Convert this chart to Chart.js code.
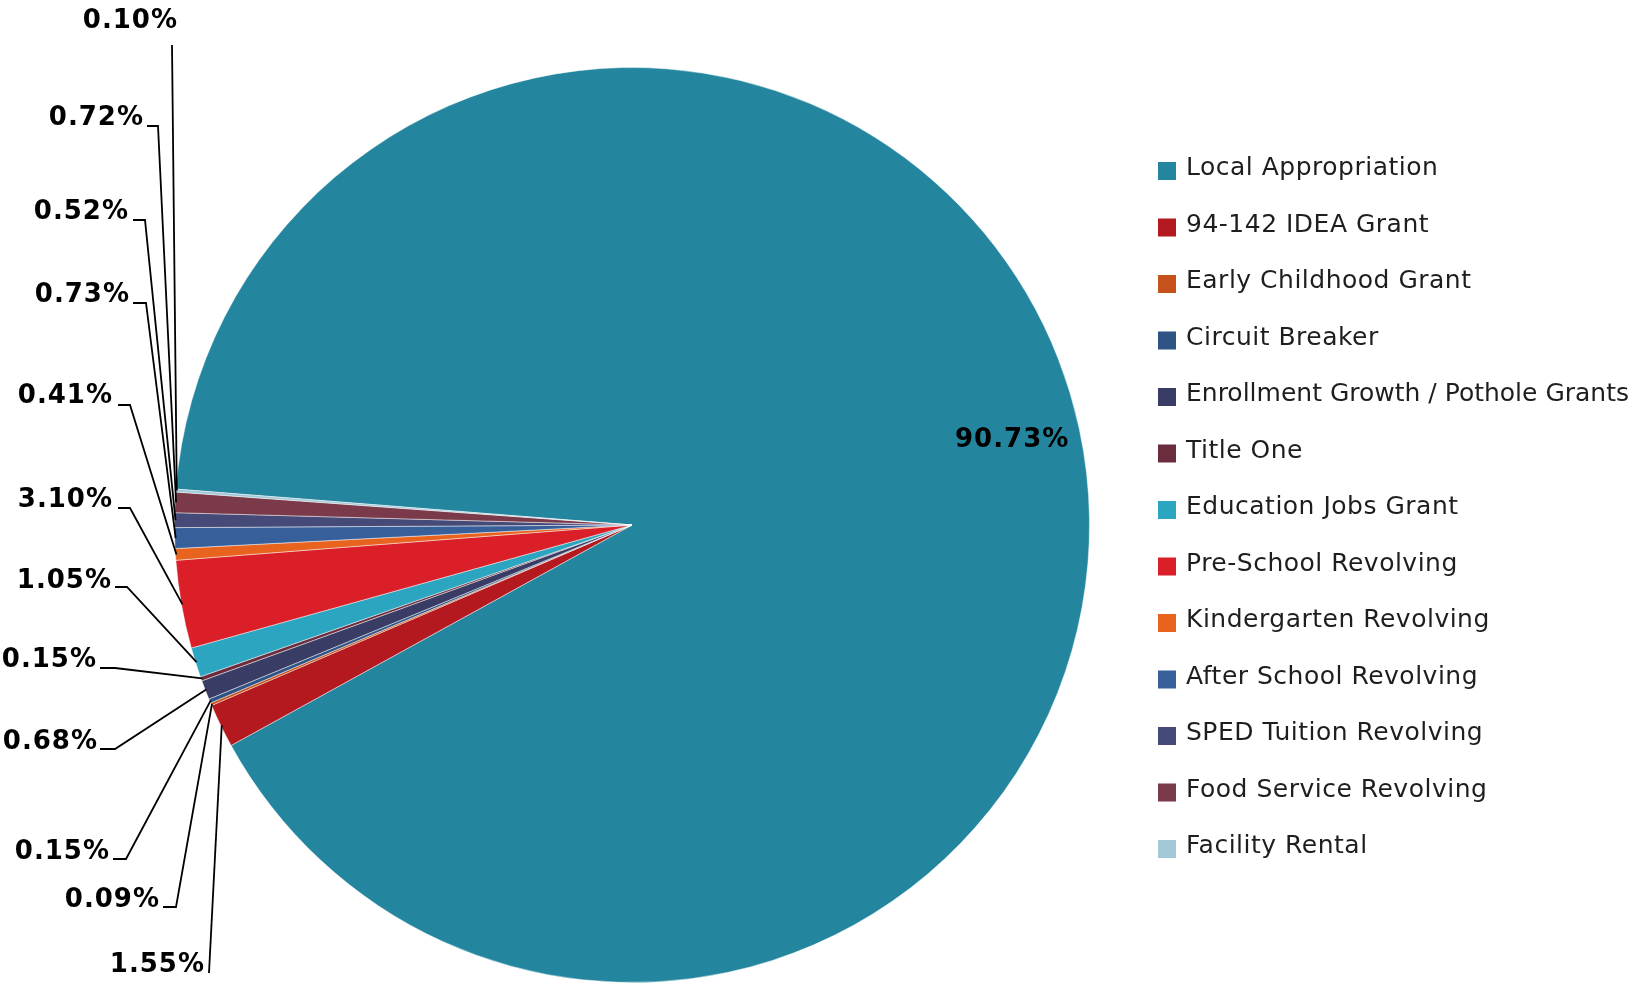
<!DOCTYPE html>
<html>
<head>
<meta charset="utf-8">
<title>Revenue sources</title>
<script src="https://cdn.jsdelivr.net/npm/chart.js@4.4.1/dist/chart.umd.min.js"></script>
<style>
  body { margin: 0; background: #fff; }
  #wrap { width: 1632px; height: 988px; overflow: hidden; }
</style>
</head>
<body>
<div id="wrap"><canvas id="pie" width="1632" height="988"></canvas></div>
<script>
// --- DATA ---

const categories = [
  "Local Appropriation",
  "94-142 IDEA Grant",
  "Early Childhood Grant",
  "Circuit Breaker",
  "Enrollment Growth / Pothole Grants",
  "Title One",
  "Education Jobs Grant",
  "Pre-School Revolving",
  "Kindergarten Revolving",
  "After School Revolving",
  "SPED Tuition Revolving",
  "Food Service Revolving",
  "Facility Rental",
];

// share of the budget, in percent
const shares = [90.73, 1.55, 0.09, 0.15, 0.68, 0.15, 1.05, 3.1, 0.41, 0.73, 0.52, 0.72, 0.1];

const colors = [
  "#23869e", "#b3191f", "#c4521a", "#2e5384", "#393c65", "#6b2d3d", "#2ca6c0",
  "#da1f28", "#e8641e", "#37609b", "#454a79", "#7b3a4a", "#a3c8d8",
];

// --- LAYOUT (where the outside labels sit) ---
// [text right x, text baseline y, tick start x, tick end x, tick y]
// tick end is where the leader line to the slice starts
const labelSpots = [
  null,
  [205, 972, 209, 209, 973],
  [160, 907, 163, 176, 907],
  [110, 859, 113, 126, 859],
  [98, 749, 100, 115, 749],
  [97, 667, 100, 115, 668],
  [112, 588, 115, 127, 587],
  [113, 507, 118, 130, 508],
  [113, 403, 118, 130, 405],
  [130, 302, 133, 146, 303],
  [129, 219, 133, 145, 220],
  [144, 125, 147, 158, 126],
  [178, 28, 172, 172, 45],
];

const LABEL_FONT = "bold 26px 'DejaVu Sans'";
const LEGEND_FONT = "25px 'DejaVu Sans'";

// --- PLUGINS ---

// percent labels: first one inside the big slice, the rest outside with leader lines
const percentLabels = {
  id: "percentLabels",
  afterDatasetsDraw(chart) {
    const ctx = chart.ctx;
    const arcs = chart.getDatasetMeta(0).data;
    ctx.save();
    ctx.font = LABEL_FONT;
    ctx.letterSpacing = "1px";
    ctx.fillStyle = "#000";
    ctx.strokeStyle = "#000";
    ctx.lineWidth = 1.8;
    arcs.forEach((arc, i) => {
      const text = shares[i].toFixed(2) + "%";
      const mid = (arc.startAngle + arc.endAngle) / 2;
      if (i === 0) {
        // big slice - label inside, near the rim
        const r = arc.outerRadius * 0.85;
        ctx.textAlign = "center";
        ctx.textBaseline = "middle";
        ctx.fillText(text, arc.x + Math.cos(mid) * r, arc.y + Math.sin(mid) * r - 3);
        return;
      }
      const spot = labelSpots[i];
      ctx.textAlign = "right";
      ctx.textBaseline = "alphabetic";
      ctx.fillText(text, spot[0], spot[1]);
      const ex = arc.x + Math.cos(mid) * (arc.outerRadius - 1);
      const ey = arc.y + Math.sin(mid) * (arc.outerRadius - 1);
      ctx.beginPath();
      ctx.moveTo(spot[2], spot[4]);
      ctx.lineTo(spot[3], spot[4]);
      ctx.lineTo(ex, ey);
      ctx.stroke();
    });
    ctx.restore();
  },
};

// legend drawn on the right, one row per category
const sideLegend = {
  id: "sideLegend",
  afterDraw(chart) {
    const ctx = chart.ctx;
    const x = 1158;
    const textX = x + 28;
    const firstBaseline = 175;
    const rowGap = 56.5;
    ctx.save();
    ctx.font = LEGEND_FONT;
    ctx.textAlign = "left";
    ctx.textBaseline = "alphabetic";
    chart.data.labels.forEach((label, i) => {
      const base = firstBaseline + rowGap * i;
      ctx.fillStyle = colors[i];
      ctx.fillRect(x, base - 13, 18, 18);
      // a bit of tracking, unless the label would run off the canvas
      ctx.letterSpacing = "0.5px";
      if (textX + ctx.measureText(label).width > chart.width - 2) {
        ctx.letterSpacing = "0px";
      }
      ctx.fillStyle = "#1e1e1e";
      ctx.fillText(label, textX, base);
    });
    ctx.restore();
  },
};

// --- CHART ---

const canvas = document.getElementById("pie");
const pieChart = new Chart(canvas, {
  type: "pie",
  data: {
    labels: categories,
    datasets: [
      {
        data: shares,
        backgroundColor: colors,
        borderColor: "rgba(255,255,255,0.45)",
        borderWidth: 1,
      },
    ],
  },
  options: {
    responsive: false,
    animation: false,
    rotation: 274.5,
    layout: { padding: { top: 67, bottom: 5, left: 2, right: 370 } },
    plugins: {
      legend: { display: false },
      tooltip: { enabled: false },
    },
  },
  plugins: [percentLabels, sideLegend],
});
</script>
</body>
</html>
